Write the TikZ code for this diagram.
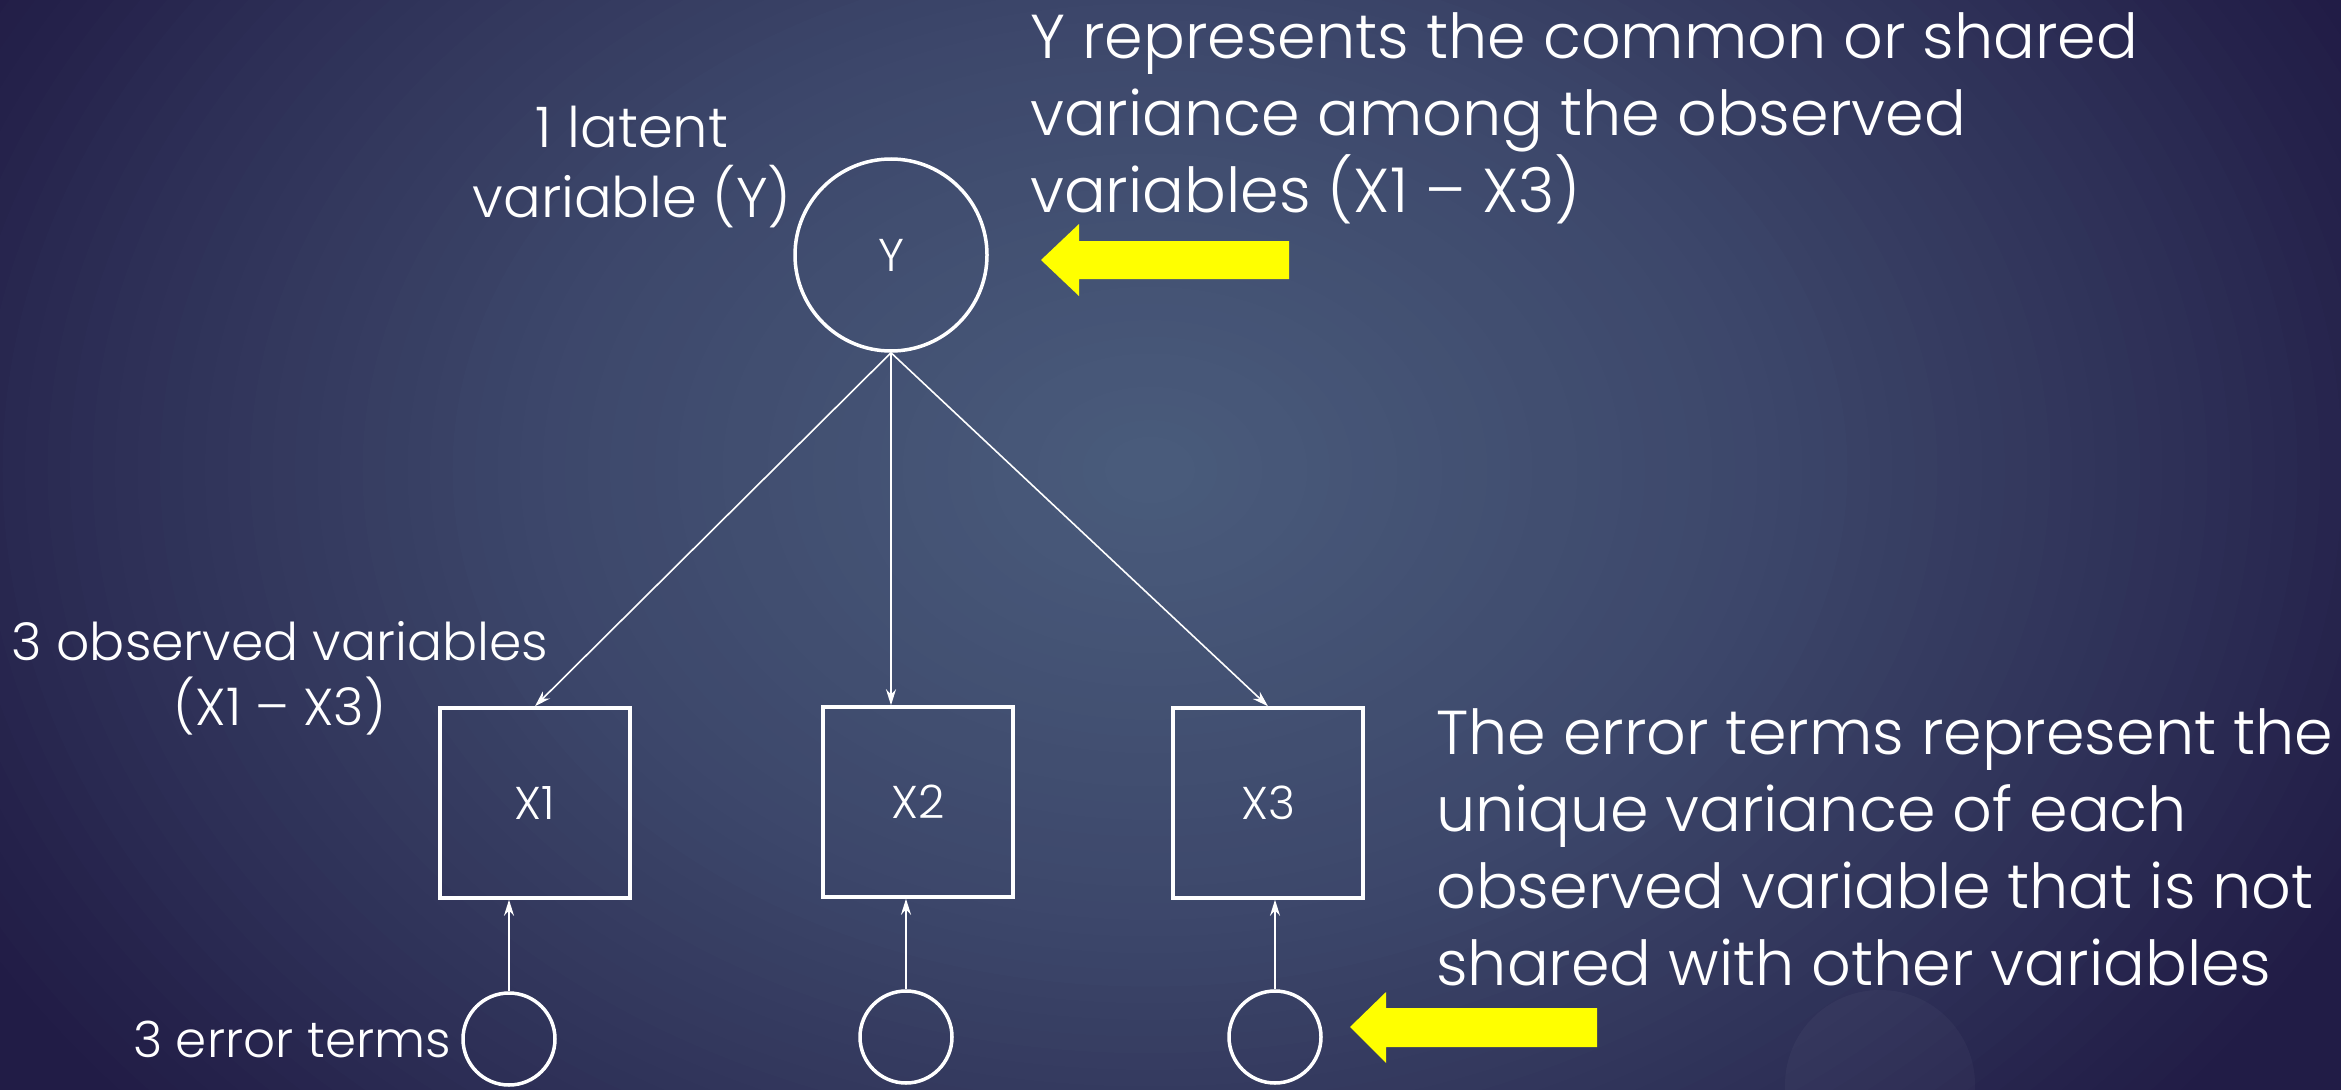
\documentclass[tikz,border=0pt]{standalone}
\usepackage{fontspec}
\setmainfont{Poppins}[UprightFont={* Light}]
\usetikzlibrary{arrows.meta,calc}
\definecolor{bgc0}{HTML}{4A5C7C}
\definecolor{bgc4}{HTML}{211C46}
\definecolor{hintyellow}{HTML}{FFFF00}
\begin{document}
\begin{tikzpicture}[x=1pt,y=-1pt,
  latent/.style={circle,draw=white,line width=3.5pt,minimum size=192pt,inner sep=0pt,text=white,font=\fontsize{46}{55}\selectfont},
  observed/.style={rectangle,draw=white,line width=3.5pt,minimum size=190pt,inner sep=0pt,text=white,font=\fontsize{46}{55}\selectfont},
  errterm/.style={circle,draw=white,line width=3.5pt,minimum size=92pt,inner sep=0pt},
  loading/.style={draw=white,line width=1.6pt,-{Stealth[length=16pt,width=10pt]}},
  sidetext/.style={text=white,inner sep=0pt},
  notetext/.style={text=white,inner sep=0pt,align=left,font=\fontsize{62}{77}\selectfont},
  hint/.style={fill=hintyellow}]
\useasboundingbox (0,0) rectangle (2341,1089);
\begin{scope}
  \clip (-10,-10) rectangle (2351,1099);
  \fill[bgc4] (-10,-10) rectangle (2351,1099);
  \foreach \i in {0,...,59}{
    \pgfmathsetmacro{\rr}{1-\i/60}
    \pgfmathsetmacro{\pp}{max(0,min(100,100*(\rr<0.45 ? 1-0.711*\rr : (\rr<0.78 ? 0.68-1.1515*(\rr-0.45) : (\rr<0.9 ? 0.3-1.5*(\rr-0.78) : 0.12-1.2*(\rr-0.9))))))}
    \fill[bgc0!\pp!bgc4] (1150,470) ellipse [x radius={1350*\rr}, y radius={1000*\rr}];
  }
  \fill[white,fill opacity=0.03] (1880,1085) circle (95);
\end{scope}

% nodes
\node[latent] (Y) at (891,255) {Y};
\node[observed] (X1) at (535,803) {X1};
\node[observed] (X2) at (918,802) {X2};
\node[observed] (X3) at (1268,803) {X3};
\node[errterm] (e1) at (509,1039) {};
\node[errterm] (e2) at (906,1037) {};
\node[errterm] (e3) at (1275,1037) {};

% connectors
\draw[loading] (Y.south) -- (X1.north);
\draw[loading] (Y.south) -- (Y.south |- X2.north);
\draw[loading] (Y.south) -- (X3.north);
\draw[loading] (e1.north) -- (e1.north |- X1.south);
\draw[loading] (e2.north) -- (e2.north |- X2.south);
\draw[loading] (e3.north) -- (e3.north |- X3.south);

% labels
\node[sidetext,align=center,anchor=base,font=\fontsize{56}{70}\selectfont] (latlbl) at (632,217) {1 latent\\variable (Y)};
\node[sidetext,align=center,anchor=base,font=\fontsize{52}{65}\selectfont] (obslbl) at (280,725) {3 observed variables\\(X1 – X3)};
\node[sidetext,anchor=base east,font=\fontsize{50}{60}\selectfont] (errlbl) at (451,1057) {3 error terms};
\node[notetext,anchor=base west] (topnote) at (1030,212) {Y represents the common or shared\\variance among the observed\\variables (X1 – X3)};
\node[notetext,anchor=base west] (botnote) at (1436,985) {The error terms represent the\\unique variance of each\\observed variable that is not\\shared with other variables};

% yellow arrows
\fill[hint] (1289,241) -- (1079,241) -- (1079,224) -- (1041,260) -- (1079,296) -- (1079,279) -- (1289,279) -- cycle;
\fill[hint] (1597,1008) -- (1386,1008) -- (1386,992) -- (1350,1027) -- (1386,1063) -- (1386,1047) -- (1597,1047) -- cycle;
\end{tikzpicture}
\end{document}
